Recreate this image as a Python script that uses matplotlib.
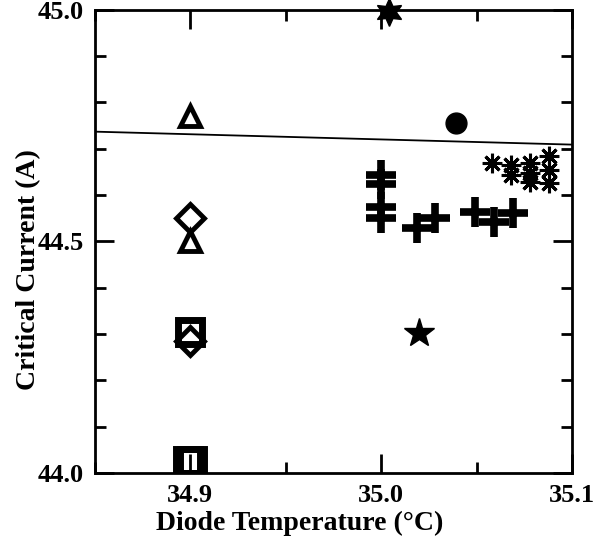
import numpy as np
import matplotlib
matplotlib.use("Agg")
import matplotlib.pyplot as plt
from matplotlib.ticker import MultipleLocator

plt.rcParams['font.family'] = ['Liberation Serif', 'DejaVu Serif']
plt.rcParams['font.weight'] = 'bold'

# data
tri_x = [34.9, 34.9]
tri_y = [44.77, 44.50]
dia_x = [34.9, 34.9]
dia_y = [44.55, 44.285]
sq_x = [34.9, 34.899, 34.901]
sq_y = [44.305, 44.026, 44.026]
star6_x = [35.004]
star6_y = [44.995]
circ_x = [35.039]
circ_y = [44.756]
star5_x = [35.02]
star5_y = [44.302]
plus_x = [35.0, 35.0, 35.0, 35.0, 35.019, 35.028, 35.049, 35.059, 35.069]
plus_y = [44.644, 44.624, 44.574, 44.551, 44.529, 44.551, 44.564, 44.542, 44.561]
ast_x = [35.058, 35.068, 35.068, 35.078, 35.078, 35.078, 35.088, 35.088, 35.088]
ast_y = [44.67, 44.665, 44.644, 44.67, 44.648, 44.628, 44.685, 44.654, 44.626]
fit_x = [34.85, 35.1]
fit_y = [44.737, 44.709]

fig = plt.figure(figsize=(5.96, 5.48), dpi=100)
ax = fig.add_axes([0.159, 0.137, 0.801, 0.845])

ax.plot(fit_x, fit_y, color='black', lw=1.3)

ax.plot(tri_x, tri_y, ls='none', marker='^', ms=15, mfc='none', mec='black', mew=3.5)
ax.plot(dia_x, dia_y, ls='none', marker='D', ms=14, mfc='none', mec='black', mew=3.5)
ax.plot(sq_x, sq_y, ls='none', marker='s', ms=17, mfc='none', mec='black', mew=5)
ax.plot(star6_x, star6_y, ls='none', marker=(6, 1, 0), ms=20, color='black', clip_on=False)
ax.plot(circ_x, circ_y, ls='none', marker='o', ms=15, color='black')
ax.plot(star5_x, star5_y, ls='none', marker='*', ms=22, color='black')
ax.plot(plus_x, plus_y, ls='none', marker='+', ms=21, mew=5.5, color='black')
ax.plot(ast_x, ast_y, ls='none', marker=(8, 2, 0), ms=14, mew=2.2, color='black')

ax.set_xlim(34.85, 35.1)
ax.set_ylim(44.0, 45.0)
ax.xaxis.set_minor_locator(MultipleLocator(0.05))
ax.yaxis.set_minor_locator(MultipleLocator(0.1))
ax.set_xticks([34.9, 35.0, 35.1])
ax.set_xticklabels(['34.9', '35.0', '35.1'])
ax.set_yticks([44.0, 44.5, 45.0])
ax.set_yticklabels(['44.0', '44.5', '45.0'])

ax.tick_params(which='both', direction='in', top=True, right=True, width=2,
               labelsize=19, pad=8)
ax.tick_params(which='major', length=14)
ax.tick_params(which='minor', length=8)
for s in ax.spines.values():
    s.set_linewidth(2)

ax.set_xlabel('Diode Temperature (°C)', fontsize=20, fontweight='bold')
ax.set_ylabel('Critical Current (A)', fontsize=20, fontweight='bold')
ax.xaxis.set_label_coords(0.43, -0.082)
ax.yaxis.set_label_coords(-0.112, 0.44)

fig.savefig('out.png', dpi=100)
